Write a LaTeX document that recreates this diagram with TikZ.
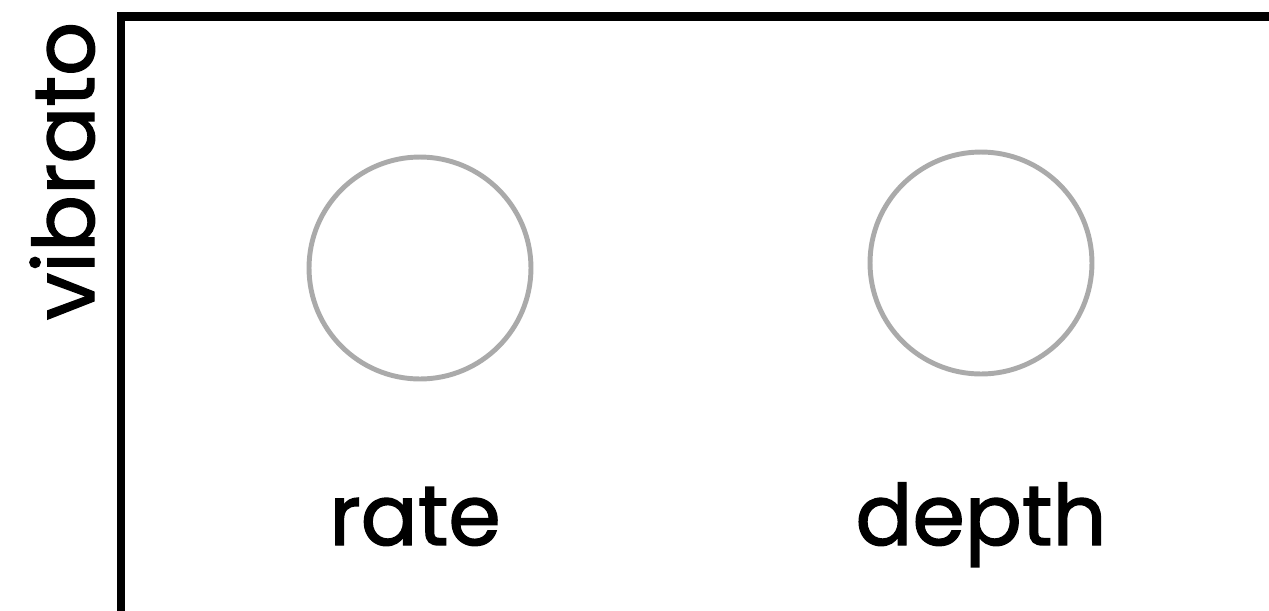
\documentclass[tikz,border=0pt]{standalone}
\usepackage{fontspec}
\setmainfont{Poppins}[FakeBold=1.6]
\usetikzlibrary{positioning}

\definecolor{knobgray}{HTML}{AAAAAA}

\begin{document}
\begin{tikzpicture}[
    x=0.02cm, y=-0.02cm,
    every node/.style={font=\fontsize{48}{56}\selectfont},
    knob/.style={
        circle,
        draw=knobgray,
        line width=2.8pt,
        minimum size=4.44cm,
        inner sep=0pt
    },
    txt/.style={
        anchor=base,
        inner sep=0pt
    }
]
\useasboundingbox (0,0) rectangle (1269,610);

% panel edge
\coordinate (corner) at (121,16.5);
\coordinate (bottom) at (121,615);
\coordinate (right) at (1274,16.5);
\draw[line width=5.1pt] (bottom) -- (corner) -- (right);

\node[txt, rotate=90] (title) at (94,171) {vibrato};

\node[knob] (rate) at (420,268) {};
\node[knob] (depth) at (981,263) {};

\node[txt] (ratetxt) at (415,545) {rate};
\node[txt] (depthtxt) at (981,545) {depth};

\end{tikzpicture}
\end{document}
